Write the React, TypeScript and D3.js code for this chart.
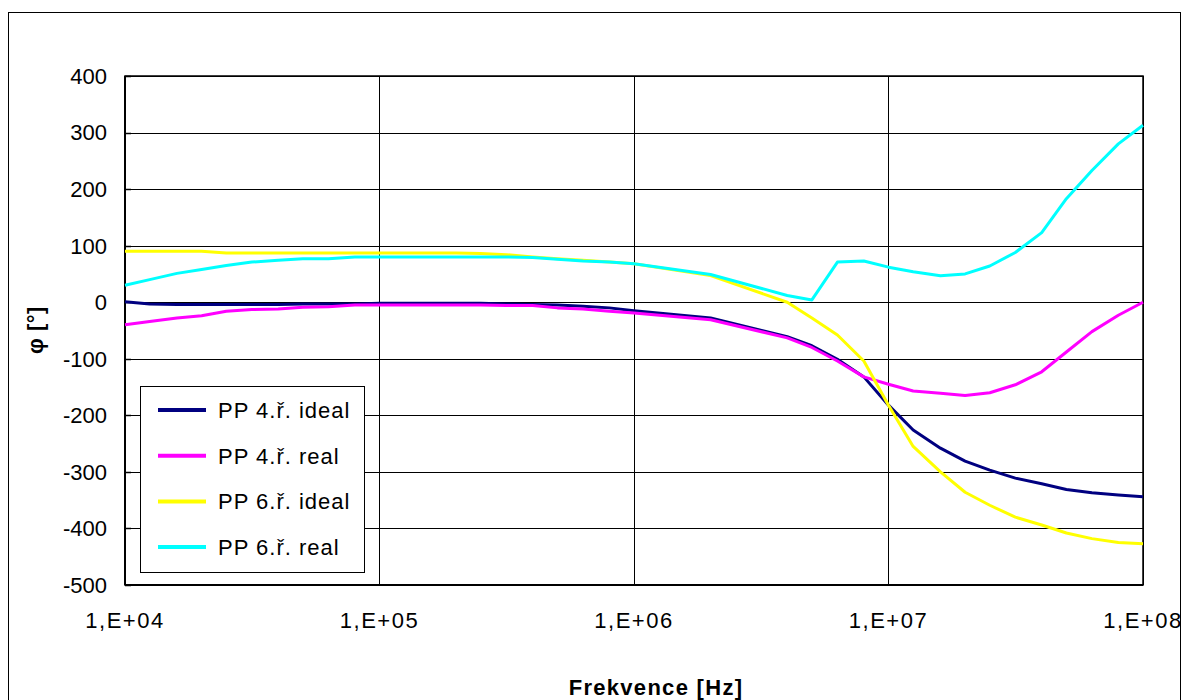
import React from "react";
import * as d3 from "d3";

const freqs = [
  1e4, 1.25e4, 1.6e4, 2e4, 2.5e4, 3.15e4, 4e4, 5e4, 6.3e4, 8e4,
  1e5, 1.25e5, 1.6e5, 2e5, 2.5e5, 3.15e5, 4e5, 5e5, 6.3e5, 8e5,
  1e6, 2e6, 4e6, 5e6, 6.3e6, 8e6,
  1e7, 1.25e7, 1.6e7, 2e7, 2.5e7, 3.15e7, 4e7, 5e7, 6.3e7, 8e7, 1e8,
];

const pp4Ideal = [
  1, -3, -4, -4, -4, -4, -4, -3, -3, -3,
  -2, -2, -2, -2, -2, -3, -4, -5, -7, -10,
  -15, -28, -61, -77, -101, -132,
  -182, -226, -258, -281, -297, -311, -321, -331, -337, -341, -344,
];

const pp4Real = [
  -40, -34, -28, -24, -16, -13, -12, -9, -8, -5,
  -5, -5, -5, -5, -5, -6, -6, -10, -12, -16,
  -19, -31, -63, -80, -104, -132,
  -145, -157, -161, -165, -160, -146, -123, -88, -52, -23, 0,
];

const pp6Ideal = [
  90, 90, 90, 90, 87, 87, 87, 87, 87, 87,
  87, 87, 87, 87, 86, 84, 80, 77, 74, 71,
  68, 47, 0, -28, -58, -104,
  -182, -255, -300, -336, -359, -380, -394, -408, -418, -425, -427,
];

const pp6Real = [
  30, 40, 51, 58, 65, 71, 74, 77, 77, 80,
  80, 80, 80, 80, 80, 80, 79, 76, 73, 71,
  68, 49, 12, 4, 71, 73,
  62, 54, 47, 50, 64, 88, 123, 183, 233, 280, 313,
];

const seriesNames = ["PP 4.ř. ideal", "PP 4.ř. real", "PP 6.ř. ideal", "PP 6.ř. real"];
const seriesColors = ["#000080", "#FF00FF", "#FFFF00", "#00FFFF"];
const seriesValues = [pp4Ideal, pp4Real, pp6Ideal, pp6Real];

const xTicks = [1e4, 1e5, 1e6, 1e7, 1e8];
const xTickLabels = ["1,E+04", "1,E+05", "1,E+06", "1,E+07", "1,E+08"];
const yTicks = [-500, -400, -300, -200, -100, 0, 100, 200, 300, 400];

const xTitle = "Frekvence [Hz]";
const yTitle = "φ [°]";

export default function App() {
  const W = 1184;
  const H = 700;
  const left = 125;
  const right = 1143;
  const top = 76;
  const bottom = 585;
  const font = "'Liberation Sans', Arial, sans-serif";

  const x = d3.scaleLog().domain([1e4, 1e8]).range([left, right]);
  const y = d3.scaleLinear().domain([-500, 400]).range([bottom, top]);

  const line = (vals: number[]) =>
    d3
      .line<number>()
      .x((_, i) => x(freqs[i]))
      .y((v) => y(v))(vals) as string;

  const crisp = (v: number) => Math.round(v) + 0.5;

  return (
    <svg
      width={W}
      height={H}
      style={{ position: "absolute", left: 0, top: 0, background: "#fff" }}
      fontFamily={font}
    >
      <rect x={8.5} y={12.5} width={1172} height={720} fill="#fff" stroke="#000" strokeWidth={1} />

      {/* gridlines */}
      {yTicks.map((t) => (
        <line key={"gy" + t} x1={left} x2={right} y1={crisp(y(t))} y2={crisp(y(t))} stroke="#000" strokeWidth={1} />
      ))}
      {xTicks.map((t) => (
        <line key={"gx" + t} x1={crisp(x(t))} x2={crisp(x(t))} y1={top} y2={bottom} stroke="#000" strokeWidth={1} />
      ))}

      {/* plot border */}
      <rect x={left} y={top} width={right - left} height={bottom - top} fill="none" stroke="#000" strokeWidth={1.5} />
      <line x1={left} x2={left} y1={top} y2={bottom} stroke="#000" strokeWidth={2} />
      <line x1={left} x2={right} y1={bottom} y2={bottom} stroke="#000" strokeWidth={2} />

      {/* y ticks */}
      {yTicks.map((t) => (
        <line key={"ty" + t} x1={left} x2={left + 6} y1={crisp(y(t))} y2={crisp(y(t))} stroke="#000" strokeWidth={1.5} />
      ))}

      {/* series */}
      {seriesValues.map((vals, i) => (
        <path
          key={"s" + i}
          d={line(vals)}
          fill="none"
          stroke={seriesColors[i]}
          strokeWidth={3}
          strokeLinejoin="round"
        />
      ))}

      {/* y tick labels */}
      {yTicks.map((t) => (
        <text key={"ly" + t} x={107} y={y(t)} dy="0.36em" textAnchor="end" fontSize={22} fill="#000">
          {t}
        </text>
      ))}
      {/* x tick labels */}
      {xTicks.map((t, i) => (
        <text key={"lx" + t} x={x(t)} y={628} textAnchor="middle" fontSize={22} letterSpacing={1.5} fill="#000">
          {xTickLabels[i]}
        </text>
      ))}

      {/* axis titles */}
      <text x={656} y={695} textAnchor="middle" fontSize={22} letterSpacing={1.3} fontWeight="bold" fill="#000">
        {xTitle}
      </text>
      <text
        transform={`translate(43, 330) rotate(-90)`}
        textAnchor="middle"
        fontSize={22}
        fontWeight="bold"
        letterSpacing={0.5}
        fill="#000"
      >
        {yTitle}
      </text>

      {/* legend */}
      <rect x={140.5} y={386.5} width={224} height={186} fill="#fff" stroke="#000" strokeWidth={1} />
      {seriesNames.map((name, i) => {
        const cy = 410 + i * 45.7;
        return (
          <g key={"lg" + i}>
            <line x1={158} x2={206} y1={cy} y2={cy} stroke={seriesColors[i]} strokeWidth={4} />
            <text x={218} y={cy} dy="0.36em" fontSize={22} letterSpacing={1} fill="#000">
              {name}
            </text>
          </g>
        );
      })}
    </svg>
  );
}
